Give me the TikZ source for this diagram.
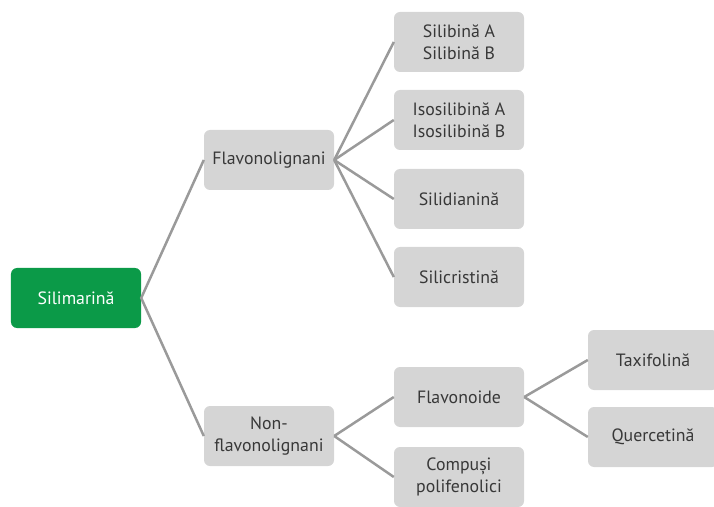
\documentclass[tikz,border=0pt]{standalone}
\usepackage{fontspec}
\setmainfont{PT Sans}
\definecolor{boxgray}{HTML}{D5D5D5}
\definecolor{txtgray}{HTML}{383838}
\definecolor{silgreen}{HTML}{0B9A48}
\definecolor{linegray}{HTML}{9A9A9A}
\begin{document}
\begin{tikzpicture}[x=1bp,y=-1bp,
  box/.style={rectangle,rounded corners=6bp,fill=boxgray,text=txtgray,
    minimum width=130bp,minimum height=60bp,align=center,inner sep=2bp,
    font=\fontsize{17.8bp}{22bp}\selectfont},
  rootbox/.style={box,fill=silgreen,text=white},
  conn/.style={draw=linegray,line width=2.5bp}]
\useasboundingbox (0,0) rectangle (714,507);
\node[rootbox] (sil) at (76,298) {Silimarină};
\node[box] (flav) at (269,160) {Flavonolignani};
\node[box] (non) at (269,436) {Non-\\flavonolignani};
\node[box] (sb) at (459,42) {Silibină A\\Silibină B};
\node[box] (iso) at (459,120) {Isosilibină A\\Isosilibină B};
\node[box] (sd) at (459,199) {Silidianină};
\node[box] (sc) at (459,277) {Silicristină};
\node[box] (fo) at (459,397) {Flavonoide};
\node[box] (cp) at (459,477) {Compuși\\polifenolici};
\node[box] (tx) at (653,360) {Taxifolină};
\node[box] (qu) at (653,437) {Quercetină};
\draw[conn] (flav.west) -- (sil.east) -- (non.west);
\foreach \c in {sb,iso,sd,sc} \draw[conn] (flav.east) -- (\c.west);
\foreach \c in {fo,cp} \draw[conn] (non.east) -- (\c.west);
\foreach \c in {tx,qu} \draw[conn] (fo.east) -- (\c.west);
\end{tikzpicture}
\end{document}
